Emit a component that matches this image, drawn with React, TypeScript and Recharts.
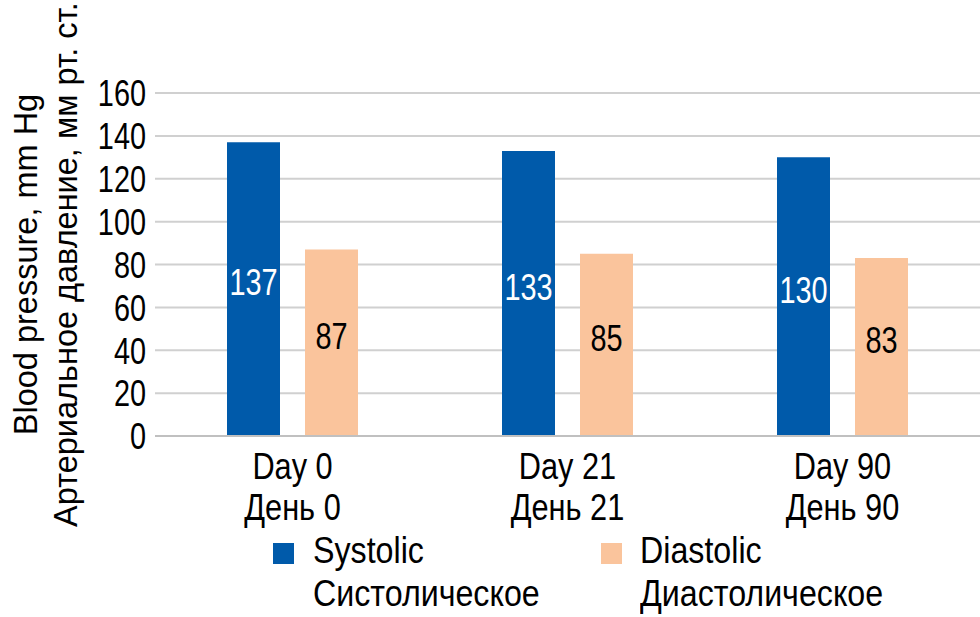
import { Bar, BarChart, CartesianGrid, LabelList, Legend, XAxis, YAxis } from "recharts"

// Blood pressure by visit
const days = ["Day 0", "Day 21", "Day 90"]
const daysRu = ["День 0", "День 21", "День 90"]
const systolic = [137, 133, 130]
const diastolic = [87, 85, 83]
const yTicks = [0, 20, 40, 60, 80, 100, 120, 140, 160]

const seriesNames = [
  { key: "systolic", en: "Systolic", ru: "Систолическое", color: "#005AAA" },
  { key: "diastolic", en: "Diastolic", ru: "Диастолическое", color: "#FAC49C" },
]

const data = days.map((d, i) => ({
  name: d,
  ru: daysRu[i],
  systolic: systolic[i],
  diastolic: diastolic[i],
}))

const sans = "'Liberation Sans', Arial, sans-serif"

// no condensed face installed, so squeeze Liberation Sans horizontally
const NText = (p: any) => (
  <text
    transform={`translate(${p.x} ${p.y}) scale(${p.sx ?? 0.83} 1)`}
    dy={p.dy}
    textAnchor={p.anchor ?? "middle"}
    fontFamily={sans}
    fontSize={p.size ?? 37}
    fill={p.fill ?? "#000"}
  >
    {p.children}
  </text>
)

const XTick = (props: any) => {
  const { x, y, payload, index } = props
  return (
    <g>
      <NText x={x} y={y + 35}>
        {payload.value}
      </NText>
      <NText x={x} y={y + 76}>
        {daysRu[index]}
      </NText>
    </g>
  )
}

const YTick = (props: any) => {
  const { y, payload } = props
  return (
    <NText x={146} y={y} dy="0.36em" anchor="end" sx={0.78}>
      {payload.value}
    </NText>
  )
}

const YLabel = (props: any) => {
  const { viewBox } = props
  const cy = viewBox.y + viewBox.height / 2
  return (
    <g fontFamily={sans} fontSize={32.5} fill="#000">
      <text x={37} y={cy} transform={`rotate(-90 37 ${cy})`} textAnchor="middle">
        Blood pressure, mm Hg
      </text>
      <text x={77} y={cy} transform={`rotate(-90 77 ${cy})`} textAnchor="middle">
        Артериальное давление, мм рт. ст.
      </text>
    </g>
  )
}

const makeLabel = (color: string) => (props: any) => {
  const { x, y, width, height, value } = props
  return (
    <NText x={x + width / 2} y={y + height / 2 - 7} dy="0.36em" sx={0.78} fill={color}>
      {value}
    </NText>
  )
}

const swatchX = [273, 601]
const legendTextX = [313, 640]

const LegendContent = () => (
  <div style={{ position: "relative", width: 980, height: 80 }}>
    {seriesNames.map((s, i) => (
      <div key={s.key}>
        <div
          style={{ position: "absolute", left: swatchX[i], top: 7, width: 21, height: 21, background: s.color }}
        />
        <div
          style={{
            position: "absolute",
            left: legendTextX[i],
            top: -7,
            fontFamily: sans,
            fontSize: 37,
            lineHeight: "43px",
            whiteSpace: "nowrap",
            transform: "scaleX(0.87)",
            transformOrigin: "left top",
            color: "#000",
          }}
        >
          <div>{s.en}</div>
          <div>{s.ru}</div>
        </div>
      </div>
    ))}
  </div>
)

export default function App() {
  return (
    <div style={{ position: "absolute", left: 0, top: 0, width: 980, height: 617, background: "#fff" }}>
      <BarChart
        width={980}
        height={617}
        data={data}
        margin={{ top: 93, right: 0, left: 0, bottom: 0 }}
        barSize={53}
        barGap={25}
      >
        <CartesianGrid vertical={false} stroke="#d0d0d0" strokeWidth={2} />
        <XAxis
          dataKey="name"
          height={181}
          tick={<XTick />}
          tickLine={false}
          axisLine={{ stroke: "#c0c0c0", strokeWidth: 2 }}
          interval={0}
        />
        <YAxis
          width={155}
          domain={[0, 160]}
          ticks={yTicks}
          interval={0}
          tick={<YTick />}
          tickLine={false}
          axisLine={false}
          label={<YLabel />}
        />
        <Legend
          layout="horizontal"
          verticalAlign="middle"
          align="center"
          wrapperStyle={{ position: "absolute", left: 0, top: 536, width: 980, height: 80 }}
          content={<LegendContent />}
        />
        <Bar dataKey="systolic" fill={seriesNames[0].color} isAnimationActive={false}>
          <LabelList dataKey="systolic" content={makeLabel("#fff")} />
        </Bar>
        <Bar dataKey="diastolic" fill={seriesNames[1].color} isAnimationActive={false}>
          <LabelList dataKey="diastolic" content={makeLabel("#000")} />
        </Bar>
      </BarChart>
    </div>
  )
}
